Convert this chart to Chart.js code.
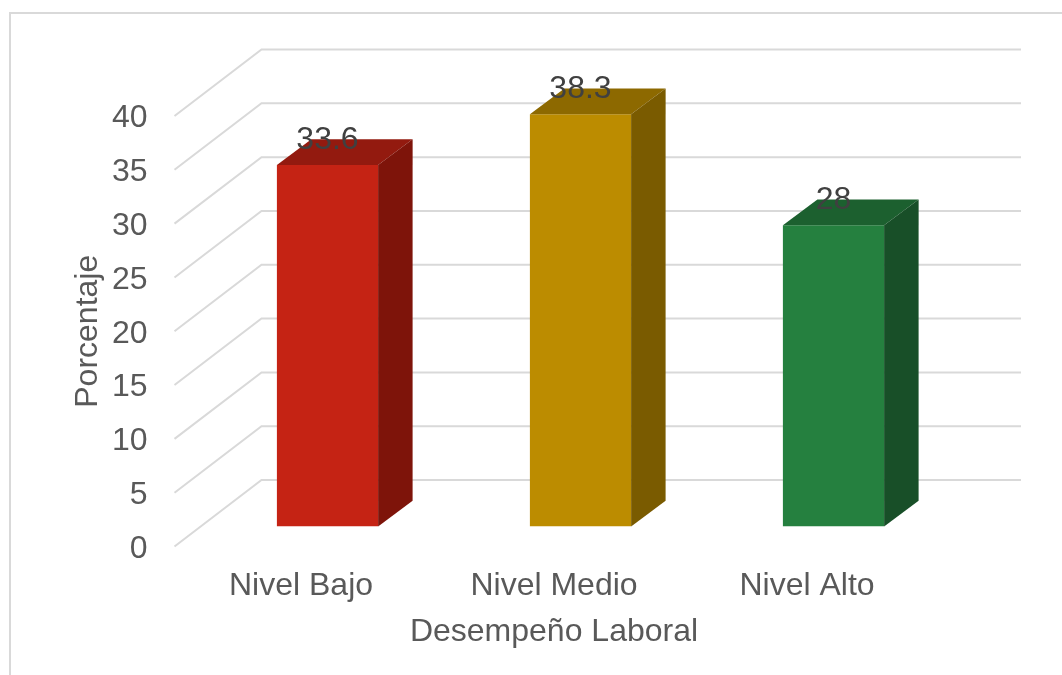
<!DOCTYPE html>
<html>
<head>
<meta charset="utf-8">
<style>
  html, body { margin: 0; padding: 0; background: #fff; overflow: hidden; }
  canvas { display: block; }
</style>
<script src="https://cdn.jsdelivr.net/npm/chart.js@4"></script>
</head>
<body>
<canvas id="chart" width="1062" height="675"></canvas>
<script>
const categories = ['Nivel Bajo', 'Nivel Medio', 'Nivel Alto'];
const values = [33.6, 38.3, 28];
const frontColors = ['#C52314', '#BC8C00', '#25803F'];
const topColors = ['#931A0F', '#8D6900', '#1C602F'];
const sideColors = ['#7E140A', '#7A5B00', '#184F28'];

const FONT = '"Liberation Sans", Arial, sans-serif';
const GRID = '#D9D9D9';
const TEXT = '#595959';
const depth = { x: 87, y: 66.5 };      // wall behind the tick plane
const barShift = { x: 26.5, y: 20 };   // bars stand part way into the floor
const barDepth = { x: 34.5, y: 25.7 };

// outer frame and the 3D grid, drawn behind the bars
const wallPlugin = {
    id: 'wall',
    beforeDatasetsDraw(chart) {
        const { ctx, scales: { y }, chartArea } = chart;
        ctx.save();
        ctx.strokeStyle = GRID;
        ctx.lineWidth = 2;
        ctx.beginPath();
        ctx.moveTo(10, 675);
        ctx.lineTo(10, 13);
        ctx.lineTo(1062, 13);
        ctx.stroke();
        y.ticks.forEach(t => {
            const py = y.getPixelForValue(t.value);
            ctx.beginPath();
            ctx.moveTo(chartArea.left, py);
            ctx.lineTo(chartArea.left + depth.x, py - depth.y);
            ctx.lineTo(1021, py - depth.y);
            ctx.stroke();
        });
        ctx.restore();
        // bars get moved back, closed again in afterDatasetsDraw
        ctx.save();
        ctx.translate(barShift.x, -barShift.y);
    },
    afterDatasetsDraw(chart) {
        const { ctx } = chart;
        const bars = chart.getDatasetMeta(0).data;
        bars.forEach((bar, i) => {
            const left = bar.x - bar.width / 2;
            const right = bar.x + bar.width / 2;
            ctx.fillStyle = topColors[i];
            ctx.beginPath();
            ctx.moveTo(left, bar.y);
            ctx.lineTo(left + barDepth.x, bar.y - barDepth.y);
            ctx.lineTo(right + barDepth.x, bar.y - barDepth.y);
            ctx.lineTo(right, bar.y);
            ctx.closePath();
            ctx.fill();
            ctx.fillStyle = sideColors[i];
            ctx.beginPath();
            ctx.moveTo(right, bar.y);
            ctx.lineTo(right + barDepth.x, bar.y - barDepth.y);
            ctx.lineTo(right + barDepth.x, bar.base - barDepth.y);
            ctx.lineTo(right, bar.base);
            ctx.closePath();
            ctx.fill();
        });
        ctx.fillStyle = '#404040';
        ctx.font = '32px ' + FONT;
        ctx.textAlign = 'center';
        ctx.textBaseline = 'middle';
        bars.forEach((bar, i) => {
            ctx.fillText(String(values[i]), bar.x, bar.y - 25);
        });
        ctx.restore();
    }
};

new Chart(document.getElementById('chart'), {
    type: 'bar',
    data: {
        labels: categories,
        datasets: [{
            data: values,
            backgroundColor: frontColors,
            borderWidth: 0,
            barPercentage: 0.4,
            categoryPercentage: 1
        }]
    },
    options: {
        responsive: false,
        animation: false,
        layout: { padding: { top: 116, right: 128.5, left: 0, bottom: 0 } },
        plugins: { legend: { display: false }, tooltip: { enabled: false } },
        scales: {
            x: {
                grid: { display: false },
                border: { display: false },
                ticks: { color: TEXT, font: { family: FONT, size: 32 }, padding: 12, maxRotation: 0 },
                title: {
                    display: true,
                    text: 'Desempeño Laboral',
                    color: TEXT,
                    font: { family: FONT, size: 32 },
                    padding: { top: 0, bottom: 24 }
                },
                afterFit: s => { s.height = 128.5; }
            },
            y: {
                min: 0,
                max: 40,
                grid: { display: false },
                border: { display: false },
                ticks: { stepSize: 5, color: TEXT, font: { family: FONT, size: 32 }, padding: 19, labelOffset: 2.5 },
                title: {
                    display: true,
                    text: 'Porcentaje',
                    color: TEXT,
                    font: { family: FONT, size: 32 },
                    padding: { top: 69, bottom: 0 }
                },
                afterFit: s => { s.width = 174.5; }
            }
        }
    },
    plugins: [wallPlugin]
});
</script>
</body>
</html>
